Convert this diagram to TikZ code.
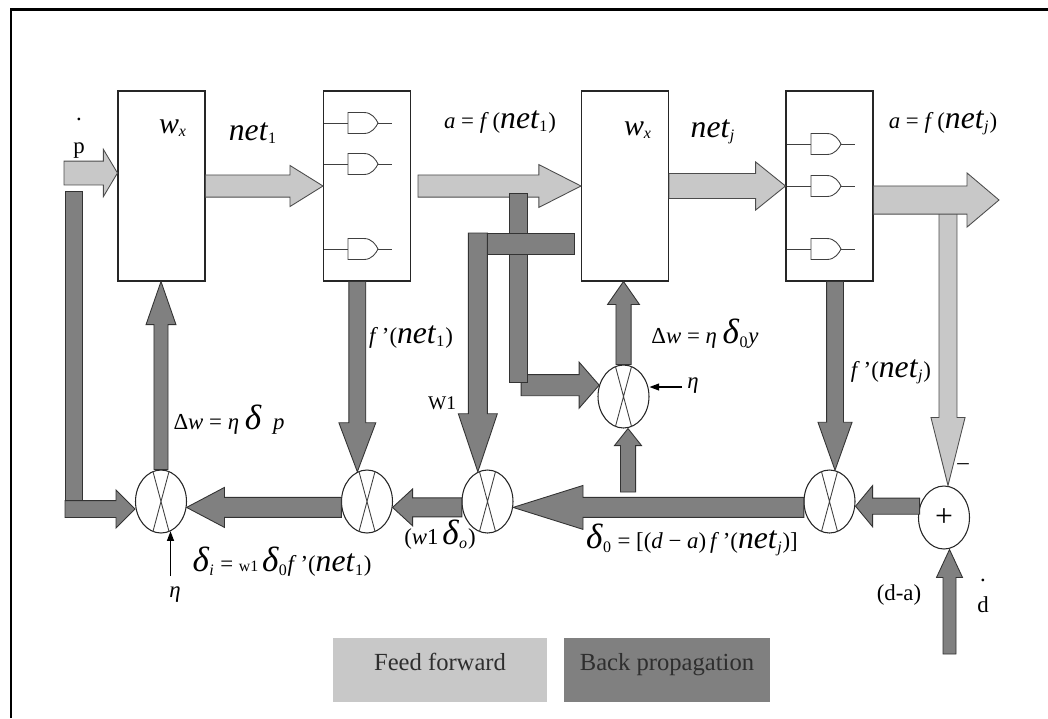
\documentclass[tikz,border=0pt]{standalone}
\usepackage{fontspec}
\setmainfont{Liberation Serif}
\usepackage{tikz}
\usetikzlibrary{calc,shapes.geometric,arrows.meta}
\definecolor{ffgray}{HTML}{C8C8C8}
\definecolor{bpgray}{HTML}{808080}
\definecolor{inkgray}{HTML}{2E2E2E}

% block arrow: style, tail, tip, half shaft, half head, head length
\newcommand{\fatarrow}[6]{%
  \coordinate (fa-s) at (#2);
  \coordinate (fa-t) at (#3);
  \coordinate (fa-b) at ($(fa-t)!#6!(fa-s)$);
  \draw[#1] ($(fa-s)!#4!90:(fa-t)$) -- ($(fa-b)!#4!-90:(fa-s)$) -- ($(fa-b)!#5!-90:(fa-s)$)
    -- (fa-t) -- ($(fa-b)!#5!90:(fa-s)$) -- ($(fa-b)!#4!90:(fa-s)$) -- ($(fa-s)!#4!-90:(fa-t)$) -- cycle;
}
\newcommand{\gatesym}[2]{%
  \begin{scope}[shift={(#1,#2)}]
    \draw[gateline] (0,0) -- (24,0) (54,0) -- (68,0);
    \draw[gateline] (24,-10.5) -- (40,-10.5) .. controls (48,-10.5) and (52,-4) .. (54,0)
      .. controls (52,4) and (48,10.5) .. (40,10.5) -- (24,10.5) -- cycle;
  \end{scope}
}
\newcommand{\nett}[1]{{\fontsize{18}{20}\selectfont\textit{net}}\textsubscript{#1}}
\newcommand{\wx}{{\fontsize{17}{18}\selectfont\textit{w}}\textsubscript{\textit{x}}}
\newcommand{\bigdel}{{\fontsize{20}{22}\selectfont\textit{δ}}}

\begin{document}
\begin{tikzpicture}[x=0.02cm, y=-0.02cm, font=\fontsize{13}{15}\selectfont,
    ffwd/.style={fill=ffgray, draw=black!70, line width=0.5pt},
    bprop/.style={fill=bpgray, draw=black!80, line width=0.5pt},
    blockbox/.style={draw=black!85, line width=0.6pt, minimum width=1.74cm, minimum height=3.8cm, inner sep=0pt},
    mulnode/.style={draw=black!85, ellipse, line width=0.6pt, minimum width=1.02cm, minimum height=1.26cm, inner sep=0pt},
    gateline/.style={draw=black!75, line width=0.5pt},
    thinarrow/.style={-{Triangle[length=5.5pt,width=4pt]}, line width=0.6pt},
    legendbox/.style={minimum width=4.28cm, minimum height=1.28cm, text height=9pt, text depth=9pt,
      text=inkgray, font=\fontsize{14}{16}\selectfont},
    lbl/.style={inner sep=0pt}]
  \useasboundingbox (0,0) rectangle (1048,718);
  \draw[line width=1.7pt] (11,718) -- (11,9) -- (1048,9);

  % blocks
  \node[blockbox] (w1box) at (161.5,186) {};
  \node[blockbox] (f1box) at (367,186) {};
  \node[blockbox] (wjbox) at (625,186) {};
  \node[blockbox] (fjbox) at (829.5,186) {};
  \foreach \gy in {123,164,249} \gatesym{324}{\gy};
  \foreach \gy in {144,186,249} \gatesym{787}{\gy};

  % multipliers and summer
  \node[mulnode] (mulp) at (161,501.5) {};
  \node[mulnode] (mulf1) at (367,501.5) {};
  \node[mulnode] (mulw) at (487.5,501.5) {};
  \node[mulnode] (muly) at (623.5,396.5) {};
  \node[mulnode] (mulfj) at (829.5,501.5) {};
  \node[mulnode, font=\fontsize{18}{20}\selectfont] (sumd) at (944,517.5) {+};
  \foreach \m in {mulp,mulf1,mulw,muly,mulfj}
    \draw[gateline] (\m.105) -- (\m.-75) (\m.75) -- (\m.-105);

  % feed forward
  \coordinate (pin) at (64,173);
  \fatarrow{ffwd}{pin}{w1box.west |- pin}{6.8pt}{13.4pt}{8pt}
  \fatarrow{ffwd}{w1box.east}{f1box.west}{6.3pt}{11.7pt}{18.8pt}
  \fatarrow{ffwd}{$(f1box.east)+(7,0)$}{wjbox.west}{6.3pt}{12.2pt}{24pt}
  \fatarrow{ffwd}{wjbox.east}{fjbox.west}{7.1pt}{13.7pt}{17pt}
  \coordinate (outfoot) at (948,213);
  \fatarrow{ffwd}{outfoot}{outfoot |- sumd.north}{5.1pt}{9.7pt}{38.7pt}
  \coordinate (outtip) at (999,200);
  \fatarrow{ffwd}{fjbox.east |- outtip}{outtip}{8pt}{15.4pt}{18.2pt}

  % back propagation
  \draw[bprop] (65,191) rectangle (82,501);
  \coordinate (pfoot) at (65,509);
  \fatarrow{bprop}{pfoot}{mulp.west |- pfoot}{4.8pt}{10.8pt}{10.8pt}
  \fatarrow{bprop}{mulp.north}{mulp.north |- w1box.south}{4pt}{8.5pt}{24.5pt}
  \fatarrow{bprop}{mulf1.108 |- f1box.south}{mulf1.108}{4.8pt}{10.5pt}{27.9pt}
  \fatarrow{bprop}{mulf1.193}{mulp.-13}{5.7pt}{11.4pt}{21.6pt}
  \fatarrow{bprop}{mulw.193}{mulf1.-13}{5.4pt}{10.5pt}{11.4pt}
  \coordinate (tbarnw) at (487,233);
  \fatarrow{bprop}{mulw.108 |- tbarnw}{mulw.108}{5.4pt}{11.1pt}{33pt}
  \fatarrow{bprop}{$(muly.155)+(-78,0)$}{muly.155}{6pt}{13.1pt}{11.4pt}
  \draw[bprop] (509,193) rectangle (527,382);
  \draw[bprop] (tbarnw) rectangle (574,254);
  \fatarrow{bprop}{muly.north}{muly.north |- wjbox.south}{4.3pt}{9.1pt}{13.1pt}
  \coordinate (yfoot) at (628,492);
  \fatarrow{bprop}{yfoot}{yfoot |- muly.south}{4.3pt}{7.7pt}{9.7pt}
  \fatarrow{bprop}{mulfj.193}{mulw.-13}{5.7pt}{12.5pt}{39.8pt}
  \fatarrow{bprop}{mulfj.80 |- fjbox.south}{mulfj.80}{4.8pt}{9.7pt}{27.3pt}
  \fatarrow{bprop}{sumd.155}{mulfj.east |- sumd.155}{4.6pt}{11.7pt}{9.7pt}
  \coordinate (dfoot) at (949.5,654);
  \fatarrow{bprop}{dfoot}{dfoot |- sumd.south}{3.7pt}{7.4pt}{15.9pt}

  % learning rate inputs
  \coordinate (etafoot) at (170.5,576);
  \draw[thinarrow] (etafoot) -- (etafoot |- mulp.-72);
  \coordinate (etaright) at (682,387);
  \draw[thinarrow] (etaright) -- (etaright -| muly.east);

  % labels
  \node[lbl, align=center] (plab) at (79,138) {.\\[3.5pt]p};
  \node[lbl] (w1lab) at (173,128) {\wx};
  \node[lbl] (net1lab) at (253,133) {\nett{1}};
  \node[lbl] (af1lab) at (500,122) {\textit{a} = \textit{f}\,(\nett{1})};
  \node[lbl] (wjlab) at (638,130) {\wx};
  \node[lbl] (netjlab) at (713,132) {\nett{\textit{j}}};
  \node[lbl] (afjlab) at (943,123) {\textit{a} = \textit{f}\,(\nett{\textit{j}})};
  \node[lbl] (fp1lab) at (411,337) {\textit{f}\,'(\nett{1})};
  \node[lbl] (fpjlab) at (891,372) {\textit{f}\,'(\nett{\textit{j}})};
  \node[lbl] (dwplab) at (229,420) {Δ\textit{w} = \textit{η} \bigdel\ \ \textit{p}};
  \node[lbl] (dwylab) at (705,334) {Δ\textit{w} = \textit{η} \bigdel\textsubscript{0}\textit{y}};
  \node[lbl, font=\fontsize{11}{12}\selectfont] (w1lbl) at (442,403) {W1};
  \node[lbl] (etaplab) at (175,595) {\textit{η}};
  \node[lbl] (etaylab) at (693,386) {\textit{η}};
  \node[lbl] (dilab) at (282,562) {\bigdel\textsubscript{\textit{i}} = {\small w1}\,\bigdel\textsubscript{0}\textit{f}\,'(\nett{1})};
  \node[lbl] (wdlab) at (440,535) {(\textit{w}1\,\bigdel\textsubscript{\textit{o}})};
  \node[lbl] (d0lab) at (692,540) {\bigdel\textsubscript{0} = [(\textit{d} − \textit{a})\,\textit{f}\,'(\nett{\textit{j}})]};
  \node[lbl] (dalab) at (899,595) {(d-a)};
  \node[lbl, align=center] (dlab) at (983,596) {.\\[3pt]d};
  \node[lbl] (minuslab) at (963,467) {–};

  % legend
  \node[legendbox, fill=ffgray] (fflegend) at (440,670) {Feed forward};
  \node[legendbox, fill=bpgray, minimum width=4.12cm] (bplegend) at (667,670) {Back propagation};
\end{tikzpicture}
\end{document}
